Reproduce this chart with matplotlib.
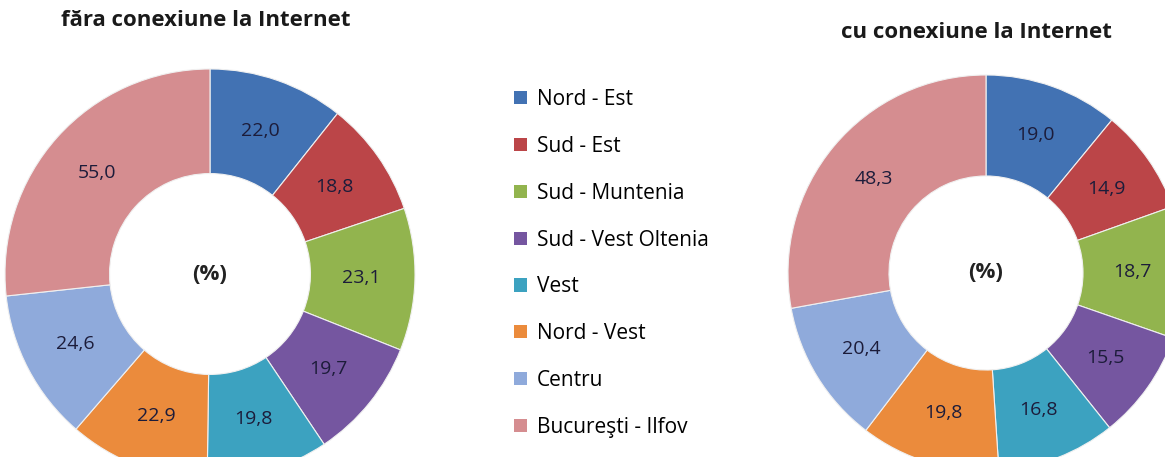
import numpy as np
import matplotlib
matplotlib.use('Agg')
import matplotlib.pyplot as plt
from matplotlib.patches import Patch

plt.rcParams['font.family'] = ['Open Sans', 'DejaVu Sans']

regions = ['Nord - Est', 'Sud - Est', 'Sud - Muntenia', 'Sud - Vest Oltenia',
           'Vest', 'Nord - Vest', 'Centru', 'Bucureşti - Ilfov']
fara_internet = [22.0, 18.8, 23.1, 19.7, 19.8, 22.9, 24.6, 55.0]
cu_internet = [19.0, 14.9, 18.7, 15.5, 16.8, 19.8, 20.4, 48.3]
colors = ['#4272B3', '#BB4548', '#92B44E', '#7556A0', '#3CA2C0', '#EB8B3C', '#8FAADB', '#D58D90']

W, H = 1165, 457
fig = plt.figure(figsize=(W / 100, H / 100), dpi=100)
ax = fig.add_axes([0, 0, 1, 1])

def donut(values, cx, cy, r, title, tx, ty):
    total = sum(values)
    fmt = lambda p: ('%.1f' % (p * total / 100.0)).replace('.', ',')
    wedges, texts, autotexts = ax.pie(values, colors=colors, startangle=90, counterclock=False,
                                      center=(cx, cy), radius=r, autopct=fmt, pctdistance=0.74,
                                      wedgeprops=dict(width=r * 0.51, edgecolor='#f0f0f0', linewidth=0.8),
                                      textprops=dict(fontsize=14, color='#1c1c3a'))
    ax.text(cx, cy, '(%)', ha='center', va='center', fontsize=16, fontweight='bold', color='#222222')
    ax.text(tx, ty, title, ha='center', va='center', fontsize=16, fontweight='bold', color='#1a1a1a')
    return wedges

wl = donut(fara_internet, 210, H - 274, 205, 'făra conexiune la Internet', 206, H - 20)
wr = donut(cu_internet, 986, H - 273, 198, 'cu conexiune la Internet', 976, H - 33)

ax.set_xlim(0, W)
ax.set_ylim(0, H)
ax.set_aspect('equal')
ax.axis('off')

handles = [Patch(facecolor=c, edgecolor='none') for c in colors]
fig.legend(handles, regions, loc='upper left', bbox_to_anchor=(514 / W, 1 - 89 / H),
           frameon=False, fontsize=15, handlelength=0.6, handleheight=0.6,
           handletextpad=0.5, labelspacing=1.24, borderpad=0, borderaxespad=0)

fig.savefig('out.png', dpi=100, facecolor='white')
